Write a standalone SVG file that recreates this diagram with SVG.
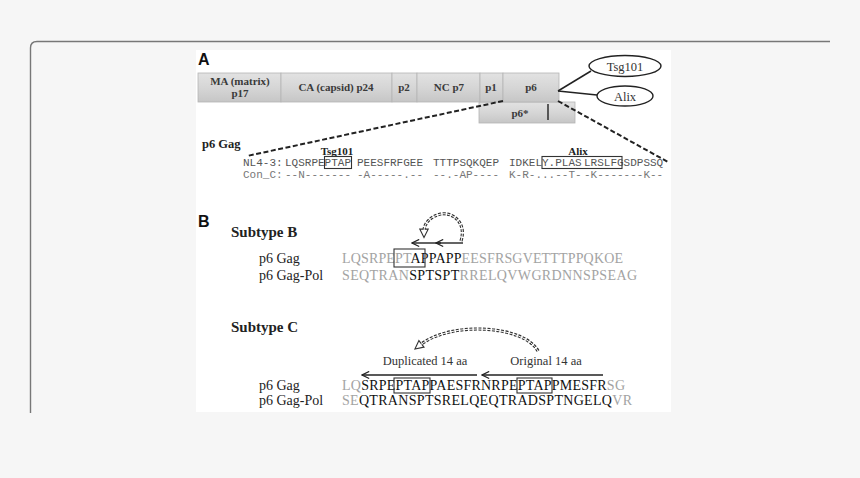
<svg xmlns="http://www.w3.org/2000/svg" width="860" height="478" viewBox="0 0 860 478">
<style>
.seg{fill:url(#bevel);stroke:#b5b5b5;stroke-width:0.8}
.segt{font-family:"Liberation Serif",serif;font-weight:bold;font-size:11px;fill:#3a3a3a;text-anchor:middle}
.mono{font-family:"Liberation Mono",monospace;font-size:11px;fill:#555}
.monoc{font-family:"Liberation Mono",monospace;font-size:11px;fill:#777}
.lbl{font-family:"Liberation Serif",serif;font-size:14px;fill:#222}
.bl{font-family:"Liberation Serif",serif;font-weight:bold;fill:#222}
.seq{font-family:"Liberation Serif",serif;font-size:14px;fill:#111}
.g{fill:#a3a3a3}
.panel{font-family:"Liberation Sans",sans-serif;font-weight:bold;font-size:16px;fill:#111}
.dash{stroke:#222;stroke-width:2;stroke-dasharray:5,2.5;fill:none}
.box{fill:none;stroke:#333;stroke-width:1.1}
.arr{stroke:#222;stroke-width:1.4;fill:none;marker-end:url(#open)}
.hol{stroke:#333;stroke-width:3.2;stroke-dasharray:3,1.5;fill:none}
.holi{stroke:#fff;stroke-width:1;fill:none}
.small{font-family:"Liberation Serif",serif;font-size:12.5px;fill:#333}
</style>
<defs>
<linearGradient id="bevel" x1="0" y1="0" x2="0" y2="1">
<stop offset="0" stop-color="#e2e2e2"/>
<stop offset="0.5" stop-color="#d6d6d6"/>
<stop offset="1" stop-color="#c6c6c6"/>
</linearGradient>
<marker id="open" viewBox="-1 -5 10 10" refX="8" refY="0" markerWidth="9" markerHeight="9" markerUnits="userSpaceOnUse" orient="auto">
<path d="M0,-4 L8,0 L0,4" fill="none" stroke="#222" stroke-width="1.3"/>
</marker>
<marker id="hollow" viewBox="-1 -6 12 12" refX="2" refY="0" markerWidth="11" markerHeight="11" markerUnits="userSpaceOnUse" orient="auto">
<path d="M0,-4.5 L9,0 L0,4.5 Z" fill="#fff" stroke="#333" stroke-width="1.2"/>
</marker>
</defs>
<rect width="860" height="478" fill="#f6f6f6"/>
<path d="M30.5,413 V48 Q30.5,41.5 37,41.5 H830" fill="none" stroke="#777" stroke-width="1.4"/>
<rect x="196" y="50" width="475" height="362" fill="#fff"/>

<text class="panel" x="198" y="65">A</text>

<g id="p6star"><rect class="seg" x="479" y="102" width="96" height="21"/><line x1="548" y1="104" x2="548" y2="120" stroke="#222" stroke-width="1.4"/><text class="segt" x="520" y="117">p6*</text></g>
<g id="MA"><rect class="seg" x="198" y="73" width="83" height="29"/><text class="segt" x="240" y="85">MA (matrix)</text><text class="segt" x="240" y="97">p17</text></g>
<g id="CA"><rect class="seg" x="281" y="73" width="111" height="29"/><text class="segt" x="336" y="91">CA (capsid) p24</text></g>
<g id="p2"><rect class="seg" x="392" y="73" width="25" height="29"/><text class="segt" x="404" y="91">p2</text></g>
<g id="NC"><rect class="seg" x="417" y="73" width="63" height="29"/><text class="segt" x="449" y="91">NC p7</text></g>
<g id="p1"><rect class="seg" x="480" y="73" width="23" height="29"/><text class="segt" x="491" y="91">p1</text></g>
<g id="p6"><rect class="seg" x="503" y="73" width="56" height="29"/><text class="segt" x="531" y="91">p6</text></g>
<g id="Tsg101"><ellipse cx="625" cy="66" rx="36" ry="10.5" fill="#fff" stroke="#222" stroke-width="1.4"/><text class="small" x="625" y="70.5" text-anchor="middle">Tsg101</text></g>
<g id="Alix"><ellipse cx="625" cy="96" rx="28" ry="10" fill="#fff" stroke="#222" stroke-width="1.4"/><text class="small" x="625" y="100.5" text-anchor="middle">Alix</text></g>

<g id="connectors">
<line x1="558" y1="91" x2="591" y2="71" stroke="#222" stroke-width="1.5"/>
<line x1="558" y1="91" x2="597" y2="95" stroke="#222" stroke-width="1.5"/>
<line class="dash" x1="503" y1="101" x2="247" y2="156"/>
<line class="dash" x1="558" y1="101" x2="668" y2="162"/>
<line class="arr" x1="441" y1="243" x2="412" y2="243"/>
<line class="arr" x1="463" y1="243" x2="436" y2="243"/>
<path class="hol" d="M461,241 C467,222 452,212 441,214 C431,216 424,223 424,231" marker-end="url(#hollow)"/>
<path class="holi" d="M461,241 C467,222 452,212 441,214 C431,216 424,223 424,231"/>
<line class="arr" x1="477" y1="375" x2="362" y2="375"/>
<line class="arr" x1="603" y1="375" x2="482" y2="375"/>
<path class="hol" d="M538,351 C525,326 452,320 420,345" marker-end="url(#hollow)"/>
<path class="holi" d="M538,351 C525,326 452,320 420,345"/>
</g>

<g id="seqA">
<text class="bl" x="202" y="148" font-size="12.5">p6 Gag</text>
<text class="bl" x="337" y="154.5" font-size="11" text-anchor="middle">Tsg101</text>
<text class="bl" x="578" y="154.5" font-size="11" text-anchor="middle">Alix</text>
<text class="mono" y="165.5"><tspan x="243">NL4-3:</tspan><tspan x="285">LQSRPEPTAP</tspan><tspan x="357">PEESFRFGEE</tspan><tspan x="433">TTTPSQKQEP</tspan><tspan x="509">IDKELY.PLAS</tspan><tspan x="584">LRSLFGSDPSSQ</tspan></text>
<text class="monoc" y="178"><tspan x="243">Con_C:</tspan><tspan x="285">--N-------</tspan><tspan x="357">-A-----.--</tspan><tspan x="433">--.-AP----</tspan><tspan x="509">K-R-...--T-</tspan><tspan x="584">-K-------K--</tspan></text>
<rect class="box" x="324.5" y="156.5" width="27" height="12"/>
<rect class="box" x="542" y="156.5" width="80" height="12"/>
</g>

<text class="panel" x="198" y="227">B</text>
<g id="subB">
<text class="bl" x="231" y="237" font-size="15">Subtype B</text>
<text class="lbl" x="259" y="263">p6 Gag</text>
<text class="lbl" x="259" y="280">p6 Gag-Pol</text>
<text class="seq" x="342" y="263" textLength="281" lengthAdjust="spacing"><tspan class="g">LQSRPEPT</tspan>APPAPP<tspan class="g">EESFRSGVETTTPPQKOE</tspan></text>
<text class="seq" x="342" y="280" textLength="295" lengthAdjust="spacing"><tspan class="g">SEQTRAN</tspan>SPTSPT<tspan class="g">RRELQVWGRDNNSPSEAG</tspan></text>
<rect class="box" x="394" y="249" width="31" height="18"/>
</g>

<g id="subC">
<text class="bl" x="231" y="332" font-size="15">Subtype C</text>
<text class="small" x="425" y="365" text-anchor="middle">Duplicated 14 aa</text>
<text class="small" x="546" y="365" text-anchor="middle">Original 14 aa</text>
<text class="lbl" x="259" y="390">p6 Gag</text>
<text class="lbl" x="259" y="405">p6 Gag-Pol</text>
<text class="seq" x="342" y="390" textLength="283" lengthAdjust="spacing"><tspan class="g">LQ</tspan>SRPEPTAPPAESFRNRPEPTAPPMESFR<tspan class="g">SG</tspan></text>
<text class="seq" x="342" y="405" textLength="290" lengthAdjust="spacing"><tspan class="g">SE</tspan>QTRANSPTSRELQEQTRADSPTNGELQ<tspan class="g">VR</tspan></text>
<rect class="box" x="394" y="378" width="36" height="15"/>
<rect class="box" x="517" y="378" width="35" height="15"/>
</g>
</svg>
